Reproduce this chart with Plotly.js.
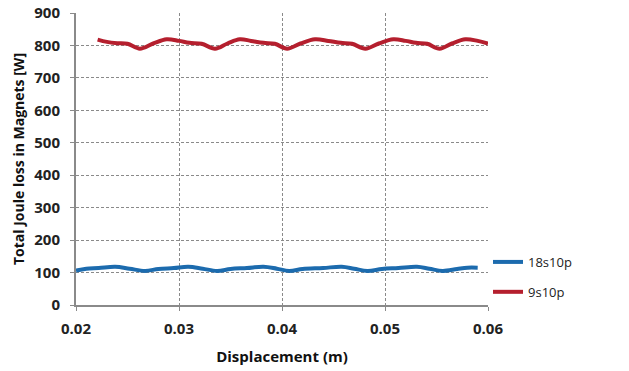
<!DOCTYPE html>
<html>
<head>
<meta charset="utf-8">
<script src="https://cdn.plot.ly/plotly-3.0.1.min.js"></script>
<style>html,body{margin:0;padding:0;background:#fff;}#chart{width:629px;height:371px;}</style>
</head>
<body>
<div id="chart"></div>
<script>
// Series: 18s10p
const x18 = [0.0200,0.0210,0.0222,0.0238,0.0252,0.0267,0.0280,0.0295,0.0309,0.0323,0.0337,0.0350,0.0366,0.0382,0.0395,0.0407,0.0420,0.0440,0.0458,0.0470,0.0483,0.0497,0.0513,0.0531,0.0543,0.0556,0.0570,0.0580,0.0590];
const y18 = [106,112,114,118,112,105,111,114,118,112,105,111,114,118,112,105,111,114,118,112,105,111,114,118,112,105,111,115,115];
// Series: 9s10p
const x9 = [0.0221,0.0230,0.0240,0.0250,0.0262,0.0275,0.0288,0.0300,0.0310,0.0322,0.0335,0.0347,0.0359,0.0370,0.0382,0.0393,0.0405,0.0418,0.0432,0.0445,0.0457,0.0468,0.0481,0.0494,0.0508,0.0520,0.0530,0.0541,0.0553,0.0565,0.0578,0.0590,0.0600];
const y9 = [818,811,807,805,790,806,819,814,808,805,790,806,819,814,808,805,790,806,819,814,808,805,790,806,819,814,808,805,790,806,819,814,806];
const names = ['18s10p','9s10p'];
const xTicks = [0.02,0.03,0.04,0.05,0.06];
const xTickText = ['0.02','0.03','0.04','0.05','0.06'];
const yTicks = [0,100,200,300,400,500,600,700,800,900];

const fontFam = 'Open Sans, Liberation Sans, sans-serif';
const traces = [
  {x:x18, y:y18, name:names[0], mode:'lines', line:{color:'#1C6BAE', width:4, shape:'spline'}, legendgroup:'a'},
  {x:x9, y:y9, name:names[1], mode:'lines', line:{color:'#B51F2E', width:4, shape:'spline'}, legendgroup:'b'}
];
const layout = {
  width:629, height:371,
  margin:{l:76, r:141, t:13, b:66},
  paper_bgcolor:'#fff', plot_bgcolor:'#fff',
  showlegend:true,
  legend:{x:1.0, xanchor:'left', y:0.096, yanchor:'middle', traceorder:'grouped', tracegroupgap:10,
          font:{family:fontFam, size:13, color:'#222'}, bgcolor:'rgba(0,0,0,0)'},
  xaxis:{range:[0.02,0.06], tickvals:xTicks, ticktext:xTickText,
         showgrid:true, gridcolor:'#8a8a8a', griddash:'3px,2px', gridwidth:1,
         showline:true, linecolor:'#8a8a8a', linewidth:2, ticks:'outside', ticklen:4, tickcolor:'#8a8a8a',
         ticklabelstandoff:5,
         zeroline:false, tickfont:{family:fontFam, size:15, color:'#222', weight:'bold'},
         title:{text:'Displacement (m)', font:{family:fontFam, size:15, color:'#111', weight:'bold'}, standoff:14}},
  yaxis:{range:[0,900], tickvals:yTicks,
         showgrid:true, gridcolor:'#8a8a8a', griddash:'3px,2px', gridwidth:1,
         showline:true, linecolor:'#8a8a8a', linewidth:2, ticks:'outside', ticklen:4, tickcolor:'#8a8a8a',
         ticklabelstandoff:7,
         zeroline:false, tickfont:{family:fontFam, size:15, color:'#222', weight:'bold'},
         title:{text:'Total Joule loss in Magnets [W]', font:{family:fontFam, size:14, color:'#111', weight:'bold'}, standoff:6}}
};
Plotly.newPlot('chart', traces, layout, {displayModeBar:false, staticPlot:true});
</script>
</body>
</html>
